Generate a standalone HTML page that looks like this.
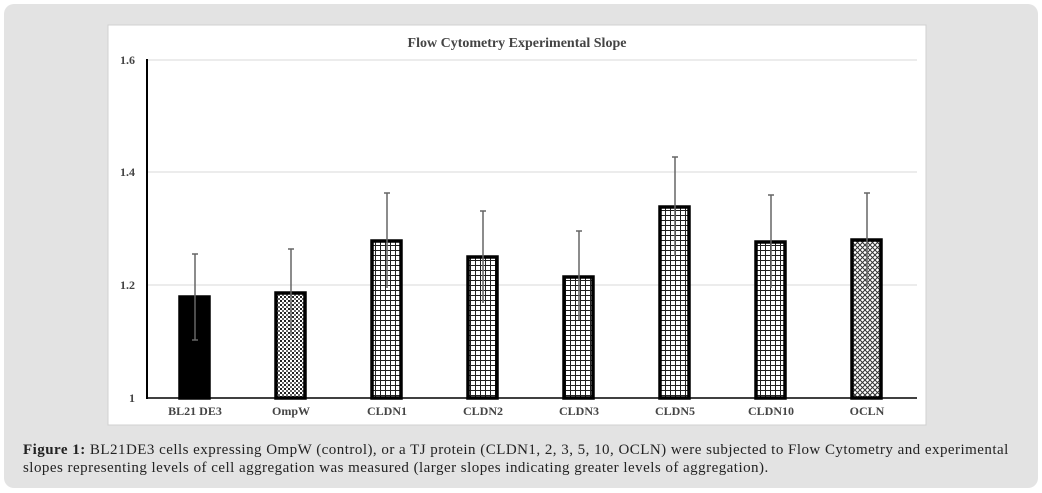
<!DOCTYPE html>
<html><head><meta charset="utf-8"><style>
html,body{margin:0;padding:0;background:#fff;}
body{width:1042px;height:493px;position:relative;overflow:hidden;}
.panel{position:absolute;left:4px;top:4px;width:1034px;height:484px;background:#e3e3e3;border-radius:10px;}
.cap{position:absolute;left:23px;top:441px;width:1010px;font-family:"Liberation Serif",serif;font-size:15px;line-height:18px;color:#222;letter-spacing:0.47px;white-space:nowrap;}
</style></head><body>
<div class="panel"></div>
<svg style="position:absolute;left:0;top:0" width="1042" height="493">
<defs>
<pattern id="dots" width="4" height="4" patternUnits="userSpaceOnUse"><rect width="4" height="4" fill="#fff"/><rect width="2" height="2" fill="#222"/><rect x="2" y="2" width="2" height="2" fill="#666"/></pattern>
<pattern id="grid" width="5" height="5" patternUnits="userSpaceOnUse"><rect width="5" height="5" fill="#fff"/><path d="M0 0.5H5M0.5 0V5" stroke="#222" stroke-width="1"/></pattern>
<pattern id="cross" width="5" height="5" patternUnits="userSpaceOnUse"><rect width="5" height="5" fill="#fff"/><path d="M0 0L5 5M5 0L0 5" stroke="#333" stroke-width="1"/></pattern>
</defs>
<rect x="108" y="25" width="818" height="400" fill="#fff" stroke="#d0d0d0"/>
<text x="517" y="47" text-anchor="middle" font-family="Liberation Serif,serif" font-weight="bold" font-size="14" fill="#444">Flow Cytometry Experimental Slope</text>
<g stroke="#d9d9d9" stroke-width="1"><line x1="147" y1="60" x2="917" y2="60"/><line x1="147" y1="172" x2="917" y2="172"/><line x1="147" y1="285" x2="917" y2="285"/></g>
<g font-family="Liberation Serif,serif" font-weight="bold" font-size="12" fill="#444" text-anchor="end">
<text x="135" y="64">1.6</text><text x="135" y="176">1.4</text><text x="135" y="289">1.2</text><text x="135" y="402">1</text></g>
<g stroke="#000" stroke-width="3.5">
<rect x="180" y="297" width="29" height="101" fill="#000"/>
<rect x="276" y="293" width="29" height="105" fill="url(#dots)"/>
<rect x="372" y="241" width="29" height="157" fill="url(#grid)"/>
<rect x="468" y="257" width="29" height="141" fill="url(#grid)"/>
<rect x="564" y="277" width="29" height="121" fill="url(#grid)"/>
<rect x="660" y="207" width="29" height="191" fill="url(#grid)"/>
<rect x="756" y="242" width="29" height="156" fill="url(#grid)"/>
<rect x="852" y="240" width="29" height="158" fill="url(#cross)"/>
</g>
<line x1="147" y1="59" x2="147" y2="399" stroke="#000" stroke-width="2"/>
<line x1="146" y1="398" x2="917" y2="398" stroke="#000" stroke-width="1.5"/>
<g stroke="#666" stroke-width="1.5">
<path d="M195 254V340M192 254H198M192 340H198"/>
<path d="M291 249V335M288 249H294"/>
<path d="M387 193V288M384 193H390"/>
<path d="M483 211V303M480 211H486"/>
<path d="M579 231V320M576 231H582"/>
<path d="M675 157V256M672 157H678"/>
<path d="M771 195V288M768 195H774"/>
<path d="M867 193V286M864 193H870"/>
</g>
<g font-family="Liberation Serif,serif" font-weight="bold" font-size="12" fill="#444" text-anchor="middle">
<text x="195" y="415">BL21 DE3</text><text x="291" y="415">OmpW</text><text x="387" y="415">CLDN1</text><text x="483" y="415">CLDN2</text><text x="579" y="415">CLDN3</text><text x="675" y="415">CLDN5</text><text x="771" y="415">CLDN10</text><text x="867" y="415">OCLN</text></g>
</svg>
<div class="cap"><b>Figure 1:</b> BL21DE3 cells expressing OmpW (control), or a TJ protein (CLDN1, 2, 3, 5, 10, OCLN) were subjected to Flow Cytometry and experimental<br>slopes representing levels of cell aggregation was measured (larger slopes indicating greater levels of aggregation).</div>
</body></html>
